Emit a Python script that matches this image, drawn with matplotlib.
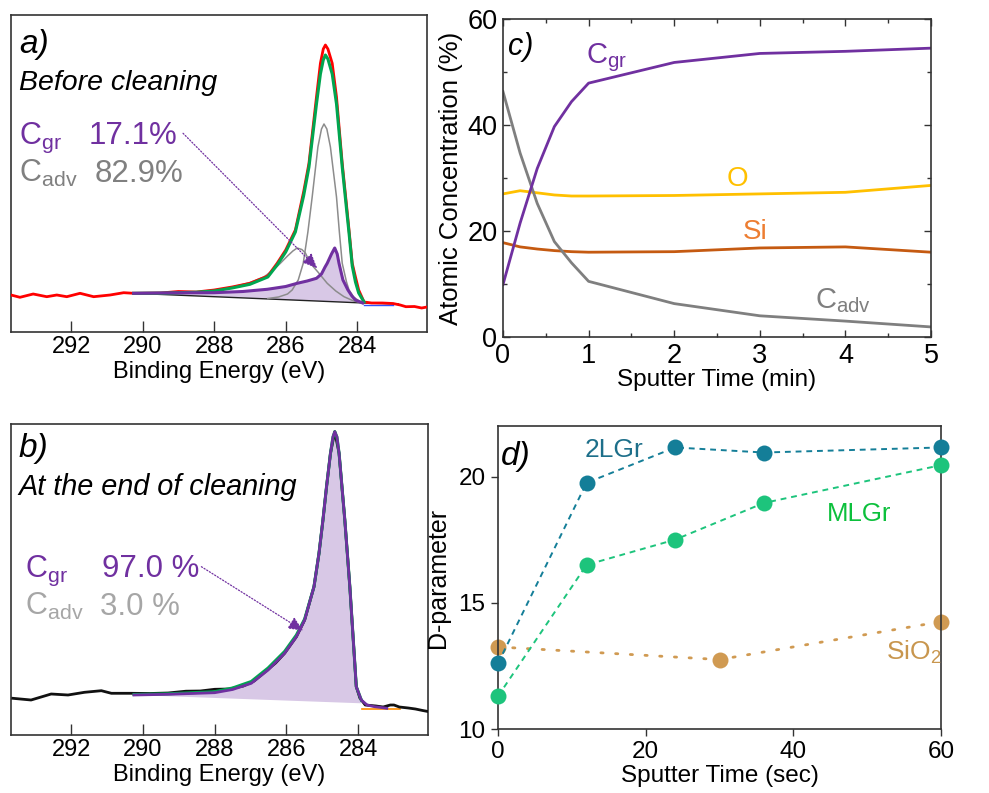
import numpy as np
import matplotlib
matplotlib.use("Agg")
import matplotlib.pyplot as plt

plt.rcParams['font.family'] = ['Liberation Sans', 'DejaVu Sans']
plt.rcParams['mathtext.fontset'] = 'custom'
plt.rcParams['mathtext.rm'] = 'Liberation Sans'
plt.rcParams['mathtext.it'] = 'Liberation Sans:italic'

# ---------------- data: panel a (before cleaning) ----------------
a_raw_E = [293.68, 293.43, 293.06, 292.68, 292.40, 292.12, 291.75, 291.37, 290.91, 290.53, 290.25,
           289.5, 289.0, 288.5, 288.0, 287.5, 287.0, 286.5, 286.24, 286.0, 285.73, 285.5, 285.35,
           285.14, 285.03, 284.95, 284.89, 284.82, 284.70, 284.58, 284.42, 284.30, 284.23, 284.14,
           284.05, 283.96, 283.81, 283.6, 283.3, 283.0, 282.8, 282.64, 282.4, 282.2, 282.05]
a_raw_I = [37, 34.7, 38, 35.3, 37, 35.3, 38.7, 35.3, 37, 39.3, 38.7,
           39, 40.5, 40, 42, 45, 48.7, 56, 68.7, 82, 102, 140, 168.7,
           235, 268.7, 283, 287, 283, 268.7, 235, 168.7, 127, 102, 68.7,
           55, 42, 30, 29, 29, 28.5, 27, 25.3, 25.5, 24, 25]
a_fit_E = [290.25, 289.5, 289.0, 288.5, 288.0, 287.5, 287.0, 286.5, 286.24, 286.0, 285.73, 285.5,
           285.35, 285.14, 285.03, 284.95, 284.89, 284.82, 284.70, 284.58, 284.42, 284.30, 284.23,
           284.14, 284.05, 283.96, 283.81]
a_fit_I = [38.7, 38.8, 39.3, 39.8, 41, 44, 47.7, 55, 67, 80, 100, 136,
           165, 228, 258, 272, 277, 273, 258, 228, 165, 123, 99,
           66, 50, 39, 30]
a_adv1_E = [286.5, 286.2, 285.95, 285.82, 285.65, 285.51, 285.38, 285.26, 285.10, 285.0, 284.93,
            284.85, 284.75, 284.58, 284.50, 284.42, 284.30, 284.23, 284.1, 283.95, 283.85]
a_adv1_I = [33.5, 35, 38, 42, 52, 68.7, 100, 135, 185, 203, 208,
            203, 185, 135, 100, 68.7, 50, 42, 35, 31, 29.5]
a_adv2_E = [290.25, 289.5, 288.8, 288.39, 287.9, 287.45, 287.0, 286.61, 286.35, 286.15, 285.95,
            285.8, 285.68, 285.55, 285.45, 285.31, 285.1, 284.84, 284.6, 284.37, 284.1, 283.9]
a_adv2_I = [38.7, 38.3, 39, 40, 42.5, 45.3, 49.5, 55, 62, 68.7, 76,
            81, 84, 82.5, 79, 68.7, 60, 48.7, 41, 35.3, 31, 29.5]
a_gr_E = [290.25, 289.5, 288.8, 288.0, 287.2, 286.52, 286.33, 286.0, 285.68, 285.4, 285.14, 285.0,
          284.9, 284.84, 284.72, 284.63, 284.56, 284.51, 284.40, 284.26, 284.15, 284.05, 283.85]
a_gr_I = [38.7, 39, 39.2, 39.3, 40.5, 42.7, 43.7, 45.5, 48.7, 51, 53.7, 58,
          65, 68.7, 78, 84, 78, 68.7, 52, 42, 36, 32, 29]
a_base_E = [290.25, 283.82, 282.85]
a_base_I = [38.7, 29, 28]

# ---------------- data: panel b (end of cleaning) ----------------
b_raw_E = [293.63, 293.12, 292.56, 292.09, 291.63, 291.16, 290.88, 290.33, 289.8, 289.3, 288.8,
           288.4, 288.0, 287.6, 287.2, 286.9, 286.6, 286.3, 286.05, 285.72, 285.49, 285.23, 285.09,
           284.98, 284.88, 284.77, 284.65, 284.53, 284.45, 284.37, 284.30, 284.23, 284.17, 284.11,
           284.05, 283.95, 283.8, 283.5, 283.3, 283.1, 283.0, 282.85, 282.6, 282.4, 282.2, 282.05]
b_raw_I = [36.7, 35, 41, 40, 42.7, 44.3, 41.7, 41.7, 41.5, 42, 43.8,
           44, 45.7, 46, 49, 54, 63, 72, 81.7, 98.3, 115, 148.3, 181.7,
           215, 248.3, 281.7, 303.3, 281.7, 248.3, 215, 181.7, 148.3, 115, 81.7,
           48.3, 37, 30, 29, 28, 30, 30, 28, 27, 26, 24.5, 23.5]
b_gr_E = [290.25, 289.3, 288.0, 287.5, 286.98, 286.51, 286.05, 285.72, 285.49, 285.23, 285.09,
          284.98, 284.88, 284.77, 284.70, 284.65, 284.59, 284.53, 284.45, 284.37, 284.30, 284.23,
          284.17, 284.11, 284.05, 283.91, 283.75, 283.54, 283.35, 283.2]
b_gr_I = [40, 40.7, 42.3, 45.5, 51.7, 65, 81.7, 98.3, 115, 148.3, 181.7,
          215, 248.3, 281.7, 298, 303.3, 298, 281.7, 248.3, 215, 181.7, 148.3,
          115, 81.7, 48.3, 35, 30, 28.3, 27.5, 26.7]
b_fit_E = [290.25, 289.3, 288.0, 287.5, 286.98, 286.51, 286.05, 285.72, 285.49, 285.23, 285.09,
           284.98, 284.88, 284.77, 284.70, 284.65, 284.59, 284.53, 284.45, 284.37, 284.30, 284.23,
           284.17, 284.11, 284.05, 283.91]
b_fit_I = [40.5, 41.2, 43.3, 47, 53.5, 67, 83.5, 100, 116, 148.3, 181.7,
           215, 248.3, 281.7, 298, 303.3, 298, 281.7, 248.3, 215, 181.7, 148.3,
           115, 81.7, 48.3, 35]
b_base_E = [283.91, 290.25]
b_base_I = [31.7, 40]
b_bg_E = [283.9, 282.84]
b_bg_I = [25.7, 25.7]

# ---------------- data: panel c ----------------
c_time = [0, 0.2, 0.4, 0.6, 0.8, 1, 2, 3, 4, 5]
c_gr = [9.9, 21.5, 31.8, 39.7, 44.4, 47.9, 51.8, 53.5, 53.9, 54.5]
c_adv = [46.3, 34.7, 25.2, 18.0, 14.0, 10.5, 6.3, 4.0, 3.0, 1.9]
c_O = [27.0, 27.6, 27.2, 26.8, 26.6, 26.6, 26.7, 27.0, 27.3, 28.6]
c_Si = [17.8, 17.0, 16.6, 16.3, 16.1, 16.0, 16.1, 16.8, 17.0, 16.0]

# ---------------- data: panel d ----------------
d_x = [0, 12, 24, 36, 60]
d_2LGr = [12.6, 19.75, 21.15, 20.95, 21.15]
d_MLGr = [11.3, 16.5, 17.5, 18.95, 20.45]
d_sio2_x = [0, 30, 60]
d_sio2 = [13.25, 12.75, 14.25]

PURPLE = '#7030A0'
FILL = '#D8C8E6'
SPINE = '#333333'

fig = plt.figure(figsize=(9.89, 7.93), dpi=100)

def W(px):
    return px / 989.0

def H(px):
    return px / 793.0

ax_a = fig.add_axes([W(11), 1 - H(332), W(416), H(317)])
ax_b = fig.add_axes([W(11), 1 - H(735), W(417), H(311)])
ax_c = fig.add_axes([W(503), 1 - H(337), W(428), H(318)])
ax_d = fig.add_axes([W(498), 1 - H(729), W(443), H(303)])

for ax in (ax_a, ax_b, ax_c, ax_d):
    for s in ax.spines.values():
        s.set_color(SPINE)
        s.set_linewidth(1.2)

def xps_axes(ax, ytop):
    ax.set_xlim(293.68, 282.05)
    ax.set_ylim(0, ytop)
    ax.set_xticks([292, 290, 288, 286, 284])
    ax.set_yticks([])
    ax.tick_params(axis='x', direction='in', length=8, width=1, labelsize=17, pad=3, color=SPINE)
    ax.set_xlabel('Binding Energy (eV)', fontsize=17, labelpad=2)

# ---- panel a ----
ax = ax_a
xps_axes(ax, 317)
ax.fill(np.r_[a_gr_E, a_base_E[1::-1]], np.r_[a_gr_I, a_base_I[1::-1]], color=FILL, lw=0, zorder=1)
ax.plot(a_base_E, a_base_I, color='#222222', lw=1.0, zorder=2)
ax.plot([283.8, 283.0], [27.3, 27.3], color='#3050FF', lw=1.0, zorder=2)
ax.plot(a_adv2_E, a_adv2_I, color='#8C8C8C', lw=1.1, zorder=3)
ax.plot(a_adv1_E, a_adv1_I, color='#8C8C8C', lw=1.1, zorder=3)
ax.plot(a_raw_E, a_raw_I, color='#FF0000', lw=2.0, zorder=4)
ax.plot(a_fit_E, a_fit_I, color='#00A650', lw=2.2, zorder=5)
ax.plot(a_gr_E, a_gr_I, color=PURPLE, lw=2.2, zorder=6)
ax.annotate('', xy=(285.12, 63.7), xytext=(288.87, 198.7),
            arrowprops=dict(arrowstyle='-|>,head_length=0.9,head_width=0.4', color=PURPLE,
                            lw=0.9, linestyle=(0, (1, 1.5)), shrinkA=0, shrinkB=0), zorder=7)
ax.text(0.019, 0.88, 'a)', transform=ax.transAxes, fontsize=24, style='italic', va='baseline')
ax.text(0.019, 0.763, 'Before cleaning', transform=ax.transAxes, fontsize=20.5, style='italic', va='baseline')
ax.text(0.019, 0.593, r'C$_{\mathrm{gr}}$', transform=ax.transAxes, fontsize=22, color=PURPLE, va='baseline')
ax.text(0.1875, 0.593, '17.1%', transform=ax.transAxes, fontsize=22.5, color=PURPLE, va='baseline')
ax.text(0.019, 0.473, r'C$_{\mathrm{adv}}$', transform=ax.transAxes, fontsize=22, color='#808080', va='baseline')
ax.text(0.2, 0.473, '82.9%', transform=ax.transAxes, fontsize=22.5, color='#808080', va='baseline')

# ---- panel b ----
ax = ax_b
xps_axes(ax, 311)
ax.fill(np.r_[b_gr_E[:26], b_base_E], np.r_[b_gr_I[:26], b_base_I], color=FILL, lw=0, zorder=1)
ax.plot(b_raw_E, b_raw_I, color='#111111', lw=2.0, zorder=3)
ax.plot(b_bg_E, b_bg_I, color='#FF8C00', lw=1.2, zorder=2)
ax.plot(b_fit_E, b_fit_I, color='#00A650', lw=2.2, zorder=4)
ax.plot(b_gr_E, b_gr_I, color=PURPLE, lw=2.0, zorder=5)
ax.annotate('', xy=(285.53, 104.3), xytext=(288.37, 168.3),
            arrowprops=dict(arrowstyle='-|>,head_length=0.9,head_width=0.4', color=PURPLE,
                            lw=0.9, linestyle=(0, (1, 1.5)), shrinkA=0, shrinkB=0), zorder=7)
ax.text(0.018, 0.895, 'b)', transform=ax.transAxes, fontsize=24, style='italic', va='baseline')
ax.text(0.018, 0.772, 'At the end of cleaning', transform=ax.transAxes, fontsize=20.8, style='italic', va='baseline')
ax.text(0.034, 0.509, r'C$_{\mathrm{gr}}$', transform=ax.transAxes, fontsize=22, color=PURPLE, va='baseline')
ax.text(0.2175, 0.509, '97.0 %', transform=ax.transAxes, fontsize=22.5, color=PURPLE, va='baseline')
ax.text(0.034, 0.386, r'C$_{\mathrm{adv}}$', transform=ax.transAxes, fontsize=22, color='#A6A6A6', va='baseline')
ax.text(0.2134, 0.386, '3.0 %', transform=ax.transAxes, fontsize=22.5, color='#A6A6A6', va='baseline')

# ---- panel c ----
ax = ax_c
ax.plot(c_time, c_O, color='#FFC000', lw=2.0)
ax.plot(c_time, c_Si, color='#C55A11', lw=2.0)
ax.plot(c_time, c_adv, color='#7F7F7F', lw=2.0)
ax.plot(c_time, c_gr, color=PURPLE, lw=2.0)
ax.set_xlim(0, 5)
ax.set_ylim(0, 60)
ax.set_xticks(range(0, 6))
ax.set_xticks(np.arange(0.5, 5, 1), minor=True)
ax.set_yticks([0, 20, 40, 60])
ax.set_yticks([10, 30, 50], minor=True)
ax.tick_params(which='both', direction='in', top=True, right=True, color=SPINE)
ax.tick_params(which='major', length=5, width=1, labelsize=19.5, pad=4)
ax.tick_params(which='minor', length=3, width=1)
ax.set_xlabel('Sputter Time (min)', fontsize=17.5, labelpad=0)
ax.set_ylabel('Atomic Concentration (%)', fontsize=18.5, labelpad=3)
ax.text(0.06, 53.2, 'c)', fontsize=22, style='italic', va='baseline')
ax.text(0.966, 51.6, r'C$_{\mathrm{gr}}$', fontsize=21, color=PURPLE, va='baseline')
ax.text(2.61, 28.4, 'O', fontsize=20, color='#FFC000', va='baseline')
ax.text(2.806, 18.5, 'Si', fontsize=20, color='#ED7D31', va='baseline')
ax.text(3.644, 5.5, r'C$_{\mathrm{adv}}$', fontsize=21, color='#7F7F7F', va='baseline')

# ---- panel d ----
ax = ax_d
C2L = '#147E98'
CML = '#1DC47C'
CSI = '#D09A52'
ax.plot(d_x, d_2LGr, color=C2L, lw=1.4, ls=(0, (3, 2.5)), marker='o', ms=11.5, mec='none', zorder=4)
ax.plot(d_x, d_MLGr, color=CML, lw=1.4, ls=(0, (3, 2.5)), marker='o', ms=11.5, mec='none', zorder=3)
ax.plot(d_sio2_x, d_sio2, color=CSI, lw=2.0, ls=(0, (0.8, 4.5)), dash_capstyle='round',
        marker='o', ms=11.5, mec='none', zorder=2)
ax.set_xlim(0, 60)
ax.set_ylim(10, 22)
ax.set_xticks([0, 20, 40, 60])
ax.set_yticks([10, 15, 20])
ax.tick_params(direction='out', length=5, width=1, labelsize=17.5, pad=4, color=SPINE)
ax.set_xlabel('Sputter Time (sec)', fontsize=17.5, labelpad=1)
ax.set_ylabel('D-parameter', fontsize=18, labelpad=6)
ax.text(0.45, 20.46, 'd)', fontsize=24, style='italic', va='baseline')
ax.text(11.75, 20.79, '2LGr', fontsize=19, color='#1D6F8A', va='baseline')
ax.text(44.5, 18.23, 'MLGr', fontsize=18.5, color='#0CC03C', va='baseline')
ax.text(52.6, 12.74, r'SiO$_{\mathrm{2}}$', fontsize=19, color='#C8964E', va='baseline')
for line in ax.lines:
    line.set_clip_on(False)

fig.savefig('out.png', dpi=100)
